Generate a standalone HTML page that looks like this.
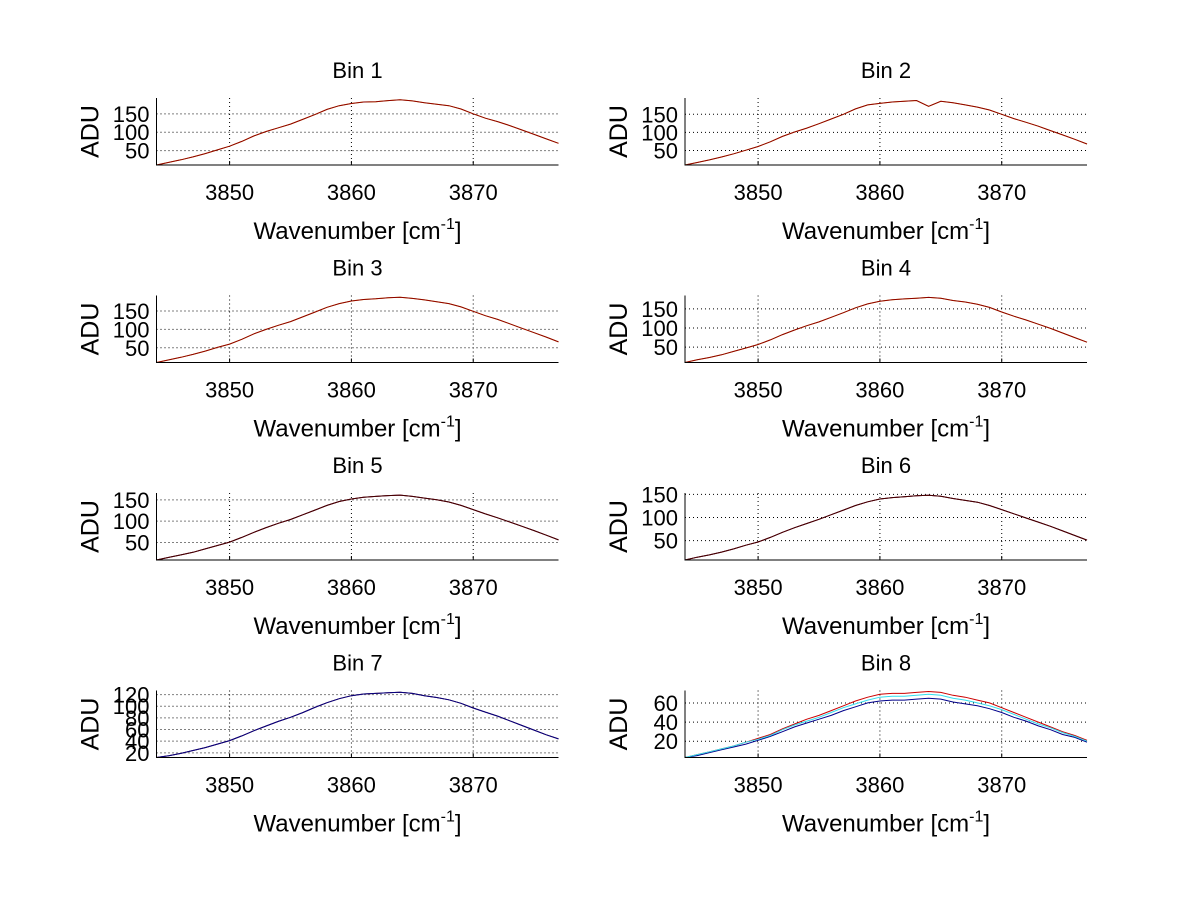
<!DOCTYPE html>
<html><head><meta charset="utf-8"><style>
html,body{margin:0;padding:0;background:#fff;}
svg{display:block;font-family:"Liberation Sans",Arial,sans-serif;}
</style></head><body>
<svg id="fig" width="1200" height="901" viewBox="0 0 1200 901"></svg>
<script>
const wavenumbers=[3844,3845,3846,3847,3848,3849,3850,3851,3852,3853,3854,3855,3856,3857,3858,3859,3860,3861,3862,3863,3864,3865,3866,3867,3868,3869,3870,3871,3872,3873,3874,3875,3876,3877];
const xTicks=[3850,3860,3870];
const bin1=[11,18,25,33,42,52,62,75,90,102,112,122,135,148,162,172,178,182,183,186,188,185,180,176,172,163,150,138,129,118,106,94,82,70];
const bin2=[10,17,24,32,41,51,61,74,89,101,112,124,137,150,165,176,180,184,186,188,172,186,182,176,170,162,150,138,128,117,105,93,81,68];
const bin3=[10,17,24,32,41,51,60,73,88,100,111,121,134,147,160,170,177,181,183,186,187,184,180,175,170,161,149,137,127,115,103,91,79,66];
const bin4=[10,17,23,30,39,48,57,69,83,95,106,116,128,140,153,163,170,174,176,178,180,178,172,168,162,154,142,131,121,110,99,87,75,63];
const bin5=[9,15,21,27,35,43,51,62,74,85,95,104,115,126,137,146,152,156,158,160,161,158,154,150,145,137,127,117,108,98,88,78,67,56];
const bin6=[8,14,19,25,32,40,47,57,68,78,87,96,106,116,126,134,140,143,145,147,148,146,141,137,133,126,117,108,99,90,81,71,61,51];
const bin7=[12,15,19,24,29,35,41,49,58,66,74,81,89,98,106,113,118,121,122,123,124,122,118,115,111,105,97,90,83,75,67,59,51,44];
const bin8Red=[3,6,9,12,15,19,23,27,33,38,43,47,52,57,62,66,69,70,70,71,72,71,68,66,63,60,55,50,45,40,35,30,26,21];
const bin8Cyan=[3,6,9,12,15,19,22,26,32,37,41,45,50,55,59,63,66,67,67,68,69,68,65,63,60,57,53,48,43,38,34,29,25,20];
const bin8Blue=[3,5,8,11,14,17,21,25,30,35,39,43,47,52,56,60,62,63,63,64,65,64,61,59,57,54,50,45,41,36,32,27,24,19];
const bin1Ticks=[50,100,150], bin7Ticks=[20,40,60,80,100,120], bin8Ticks=[20,40,60], bin6Ticks=[50,100,150];
const panels=[
 {t:"Bin 1",s:[[bin1,"#ffa500"],[bin1,"#8b0000"]],lo:11,hi:193,ticks:bin1Ticks},
 {t:"Bin 2",s:[[bin2,"#ffa500"],[bin2,"#8b0000"]],lo:10,hi:195,ticks:bin1Ticks},
 {t:"Bin 3",s:[[bin3,"#ffa500"],[bin3,"#8b0000"]],lo:10,hi:192,ticks:bin1Ticks},
 {t:"Bin 4",s:[[bin4,"#ffa500"],[bin4,"#8b0000"]],lo:10,hi:185,ticks:bin1Ticks},
 {t:"Bin 5",s:[[bin5,"#3399ff"],[bin5,"#cc0000"],[bin5,"#400000"]],lo:9,hi:166,ticks:bin1Ticks},
 {t:"Bin 6",s:[[bin6,"#3399ff"],[bin6,"#cc0000"],[bin6,"#400000"]],lo:8,hi:153,ticks:bin6Ticks},
 {t:"Bin 7",s:[[bin7,"#00bfff"],[bin7,"#cc0000"],[bin7,"#000080"]],lo:12,hi:127,ticks:bin7Ticks},
 {t:"Bin 8",s:[[bin8Red,"#cc0000"],[bin8Blue,"#00008b"],[bin8Cyan,"#33ddee"]],lo:3,hi:73,ticks:bin8Ticks}
];
const NS="http://www.w3.org/2000/svg", svg=document.getElementById('fig');
function mk(tag,attrs,parent,text){const e=document.createElementNS(NS,tag);for(const k in attrs)e.setAttribute(k,attrs[k]);if(text!==undefined)e.textContent=text;parent.appendChild(e);return e;}
const X0=3844,X1=3877;
panels.forEach((p,i)=>{
 const col=i%2,row=Math.floor(i/2);
 const L=col?685:156.5,R=col?1087:558.5,T=98+row*197.5,B=165+row*197.5;
 const sx=v=>L+(v-X0)/(X1-X0)*(R-L), sy=v=>B-(v-p.lo)/(p.hi-p.lo)*(B-T);
 const g=mk('g',{},svg);
 
 
 xTicks.forEach(v=>{
  const l=mk('line',{x1:sx(v),x2:sx(v),y1:T,y2:B,stroke:'#000','stroke-width':1,'stroke-dasharray':'1,3'},g);
  
  const tk=mk('line',{x1:sx(v),x2:sx(v),y1:B,y2:B-4,stroke:'#000'},g);
  
  const tx=mk('text',{x:sx(v),y:B+35,'font-size':22,'text-anchor':'middle'},g,String(v));
  
 });
 p.ticks.forEach(v=>{
  const l=mk('line',{x1:L,x2:R,y1:sy(v),y2:sy(v),stroke:'#000','stroke-width':1,'stroke-dasharray':'1,3'},g);
  
  const tx=mk('text',{x:L-7,y:sy(v)+8,'font-size':22,'text-anchor':'end'},g,String(v));
  
 });
 p.s.forEach(([arr,c])=>{
  const pts=arr.map((v,k)=>sx(wavenumbers[k]).toFixed(1)+','+sy(v).toFixed(1)).join(' ');
  const pl=mk('polyline',{points:pts,fill:'none',stroke:c,'stroke-width':1},g);
  
 });
 const ax=mk('path',{d:`M${L},${T}V${B}H${R}`,fill:'none',stroke:'#000','stroke-width':1},g);
 
 const ti=mk('text',{x:(L+R)/2,y:T-20,'font-size':22,'text-anchor':'middle'},g,p.t);
 
 const xl=mk('text',{x:(L+R)/2,y:B+74,'font-size':24,'text-anchor':'middle'},g);
 
 mk('tspan',{},xl,'Wavenumber [cm');
 mk('tspan',{dy:-10,'font-size':16},xl,'-1');
 mk('tspan',{dy:10},xl,']');
 const yl=mk('text',{x:0,y:0,'font-size':25,'text-anchor':'middle',transform:`translate(${L-58},${(T+B)/2}) rotate(-90)`},g,'ADU');
 
});
</script>
</body></html>
